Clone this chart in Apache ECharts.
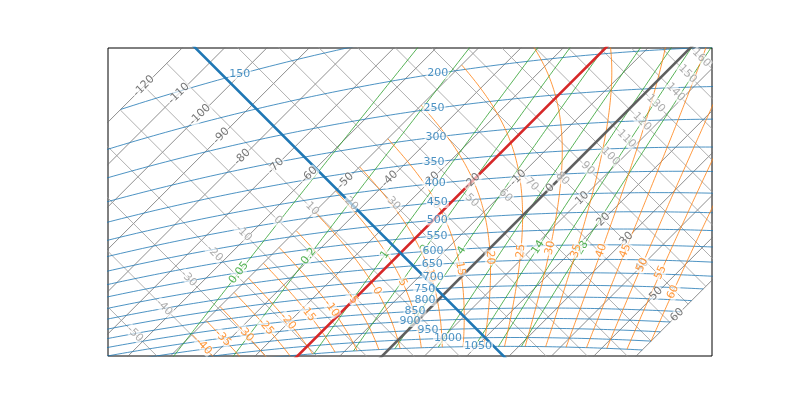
<!DOCTYPE html>
<html><head><meta charset="utf-8">
<script src="https://cdn.jsdelivr.net/npm/echarts@6/dist/echarts.min.js"></script>
<style>html,body{margin:0;padding:0;background:#fff}#c{width:800px;height:400px}</style>
</head><body><div id="c"></div>
<script>
// ---- values ----
const isobarLevels = [150,200,250,300,350,400,450,500,550,600,650,700,750,800,850,900,950,1000,1050];
const isobarLabelT = [-100.2,-53.6,-46.2,-39.0,-33.6,-28.2,-23.2,-19.1,-15.4,-12.8,-9.8,-6.6,-5.7,-3.0,-2.8,-1.6,4.7,11.4,20.4];
const isothermValues = [-120,-110,-100,-90,-80,-70,-60,-50,-40,-30,-20,-10,0,10,20,30,40,50,60];
const isothermLabelTheta = [0,6,6,6,6,11.4,17,24,35,45,55,68,74,80,80,81,78,74,74];
const dryAdiabatValues = [-60,-50,-40,-30,-20,-10,0,10,20,30,40,50,60,70,80,90,100,110,120,130,140,150,160,170,180];
const dryLabelValues = [-50,-40,-30,-20,-10,0,10,20,30,40,50,60,70,80,90,100,110,120,130,140,150,160];
const dryLabelT = [-63.6,-62.9,-64,-63.8,-61.7,-56.7,-51.3,-43.3,-33.3,-24,-15.6,-8.8,-5.2,0.7,4.2,6.8,6.4,6,5,7,5.5,5];
const wetAdiabatValues = [-40,-35,-30,-25,-20,-15,-10,-5,0,5,10,15,20,25,30,35,40,45,50,55,60];
const wetLabelT = [-44.4,-41.8,-37.6,-34.3,-30.5,-27.7,-23.2,-20.6,-16.6,-12.6,-7.4,-2.2,2.3,8.0,14.1,21.0,26.9,32.6,39.9,46.0,53.6];
const mixingRatioValues = [0.05,0.2,1,2,4,8,14,20,28];
const mixingLabelValues = [0.05,0.2,1,2,4,14,28];
const mixingLabelT = [-53.5,-40.9,-23.2,-15.2,-6.2,11.1,21.7];
const boldIsotherms = [-20, 0];       // red, dark grey
const boldAdiabats = [20];            // blue
const tempRange = [-120, 60];
const wetMinT = -50;

// ---- tephigram transform ----
const K = 0.2857, KELVIN = 273.15, L = 2.501e6, RV = 461.0, RD = 287.0, CP = 1004.0, EPS = 0.62197, E0 = 6.1078, MA = 300;
function Tt2xy(T, th){ const v = MA*Math.log(th+KELVIN); return [T+v, v-T]; }
function pT2theta(p, T){ return (T+KELVIN)*Math.pow(1000/p, K) - KELVIN; }
function pT2xy(p, T){ return Tt2xy(T, pT2theta(p, T)); }

const FONT = 'DejaVu Sans';
const series = [];
function lineSeries(pts, color, width, z){
  series.push({type:'line', data:pts, showSymbol:false, symbol:'none', silent:true, clip:true, z:z||2,
    lineStyle:{color:color, width:width}, animation:false});
}
function labelSeries(items, color, z){
  series.push({type:'scatter', symbolSize:0, silent:true, z:z||10, animation:false, clip:false,
    data: items.map(it => ({value: it.xy, label:{formatter: it.text, rotate: it.rot||0}})),
    label:{show:true, position:'inside', color:color, fontSize:11, fontFamily:FONT,
      backgroundColor:'rgba(255,255,255,0.78)', padding:[0,1], borderRadius:2}});
}

// isotherms
isothermValues.forEach(T => lineSeries([Tt2xy(T,-80), Tt2xy(T,230)], '#707070', 0.8, 2));
// dry adiabats
dryAdiabatValues.forEach(th => lineSeries([Tt2xy(tempRange[0],th), Tt2xy(tempRange[1],th)], '#9c9c9c', 0.8, 2));
// isobars
isobarLevels.forEach(p => {
  const pts = []; for (let T = tempRange[0]; T <= tempRange[1]; T += 1) pts.push(pT2xy(p, T));
  lineSeries(pts, '#1f77b4', 0.8, 3);
});
// mixing ratio lines
function mixCurve(w){
  const pts = [];
  for (let p = 1050; p >= 60; p -= 5){
    const e = p*w/(1000*EPS + w);
    const T = 1/(1/KELVIN - (RV/L)*Math.log(e/E0)) - KELVIN;
    if (T >= tempRange[0] && T <= tempRange[1]) pts.push({p, T, xy: pT2xy(p, T)});
  }
  return pts;
}
// wet adiabats
function grad(p, T){
  const kel = T + KELVIN;
  const lsbc = (L/RV)*((1/KELVIN) - (1/kel));
  const rw = ((EPS*E0)/p)*Math.exp(lsbc);
  const lrwbt = (L*rw)/(RD*kel);
  const nume = ((RD*kel)/(CP*p))*(1 + lrwbt);
  const deno = 1 + (lrwbt*((EPS*L)/(CP*kel)));
  return nume/deno;
}
function wetCurve(thw){
  const up = [{p:1000, T:thw}];
  let p = 1000, T = thw;
  while (T > wetMinT && p > 5){
    let dp = -2;
    const g1 = grad(p, T), g = grad(p + dp/2, T + dp*g1/2);
    let dT = dp*g;
    if (T + dT < wetMinT){ dT = wetMinT - T; dp = dT/g; }
    p += dp; T += dT; up.push({p, T});
  }
  const down = []; p = 1000; T = thw;
  while (p < 1050){
    const dp = Math.min(2, 1050 - p);
    const g1 = grad(p, T), g = grad(p + dp/2, T + dp*g1/2);
    p += dp; T += dp*g; down.unshift({p, T});
  }
  return down.concat(up).filter(o => o.T <= tempRange[1]).map(o => ({p:o.p, T:o.T, xy: pT2xy(o.p, o.T)}));
}
const mixCurves = {};
mixingRatioValues.forEach(w => { const c = mixCurve(w); mixCurves[w] = c; lineSeries(c.map(o=>o.xy), '#2ca02c', 0.8, 3); });
const wetCurves = {};
wetAdiabatValues.forEach(t => { const c = wetCurve(t); wetCurves[t] = c; lineSeries(c.map(o=>o.xy), '#ff7f0e', 0.8, 3); });

// bold lines
const boldColors = ['#d62728', '#5f5f5f'];
boldIsotherms.forEach((T,i) => lineSeries([Tt2xy(T,-80), Tt2xy(T,230)], boldColors[i], 2.6, 4));
boldAdiabats.forEach(th => lineSeries([Tt2xy(tempRange[0],th), Tt2xy(tempRange[1],th)], '#1f77b4', 2.6, 4));

// labels
function curveLabel(curve, Tl){
  let best = 0, bd = 1e9;
  curve.forEach((o,i) => { const d = Math.abs(o.T - Tl); if (d < bd){ bd = d; best = i; } });
  const a = curve[Math.max(0,best-2)].xy, b = curve[Math.min(curve.length-1,best+2)].xy;
  let ang = Math.atan2(b[1]-a[1], b[0]-a[0])*180/Math.PI;
  if (ang > 90) ang -= 180; if (ang <= -90) ang += 180;
  return {xy: curve[best].xy, rot: ang};
}
labelSeries(dryLabelValues.map((v,i) => ({xy: Tt2xy(dryLabelT[i], v), text: String(v), rot: -45})), '#999999', 10);
labelSeries(isothermValues.map((v,i) => ({xy: Tt2xy(v, isothermLabelTheta[i]), text: String(v), rot: 45})), '#555555', 11);
labelSeries(mixingLabelValues.map((v,i) => { const r = curveLabel(mixCurves[v], mixingLabelT[i]); return {xy:r.xy, rot:r.rot, text:String(v)}; }), '#2ca02c', 12);
labelSeries(wetAdiabatValues.map((v,i) => { const r = curveLabel(wetCurves[v], wetLabelT[i]); return {xy:r.xy, rot:r.rot, text:String(v)}; }), '#ff7f0e', 13);
labelSeries(isobarLevels.map((p,i) => ({xy: pT2xy(p, isobarLabelT[i]), text: String(p), rot: 0})), '#1f77b4', 14);

const chart = echarts.init(document.getElementById('c'), null, {renderer:'canvas'});
chart.setOption({
  animation:false,
  grid:{left:108, right:88, top:48, bottom:44, show:true, borderColor:'#000', borderWidth:1, backgroundColor:'#fff'},
  xAxis:{type:'value', min:1546.05, max:1831.35, show:false},
  yAxis:{type:'value', min:1675.55, max:1821.05, show:false},
  series: series
});
</script></body></html>
